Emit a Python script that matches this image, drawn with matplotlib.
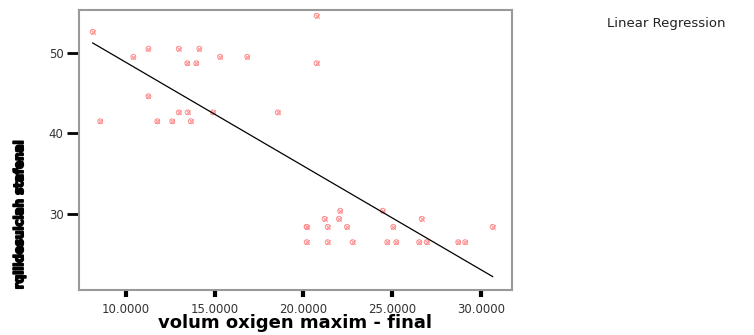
import numpy as np
import matplotlib.pyplot as plt
import matplotlib.patheffects as pe

# volum oxigen maxim - final
vo2 = [8.12, 10.41, 11.26, 12.97, 14.13, 13.45, 13.96, 15.30, 16.83, 11.26,
       12.97, 13.47, 14.90, 8.54, 11.76, 12.60, 13.65, 20.74, 20.74, 18.55,
       20.18, 20.18, 20.18, 21.19, 21.36, 21.36, 22.07, 22.00, 22.45, 22.77,
       24.46, 25.06, 24.72, 25.23, 26.66, 26.52, 26.94, 28.72, 29.11, 30.66]
scor = [52.6, 49.5, 50.5, 50.5, 50.5, 48.7, 48.7, 49.5, 49.5, 44.6,
        42.6, 42.6, 42.6, 41.5, 41.5, 41.5, 41.5, 54.6, 48.7, 42.6,
        28.4, 28.4, 26.5, 29.4, 28.4, 26.5, 30.4, 29.4, 28.4, 26.5,
        30.4, 28.4, 26.5, 26.5, 29.4, 26.5, 26.5, 26.5, 26.5, 28.4]

xticks = [10, 15, 20, 25, 30]
yticks = [30, 40, 50]

x = np.array(vo2)
y = np.array(scor)
b, a = np.polyfit(x, y, 1)
xs = np.array([x.min(), x.max()])

fig = plt.figure(figsize=(7.54, 3.35), dpi=100)
ax = fig.add_axes([0.1048, 0.1343, 0.5742, 0.8358])

pink = "#ff8c8c"
ax.scatter(x, y, s=12, marker="o", facecolors="none", edgecolors=pink, linewidths=0.7)
ax.scatter(x, y, s=10, marker="x", color=pink, linewidths=0.7)
ax.plot(xs, a + b * xs, color="black", lw=0.9)

ax.set_xlim(7.35, 31.75)
ax.set_ylim(20.56, 55.3)
ax.set_xticks(xticks)
ax.set_xticklabels([f"{t:.4f}" for t in xticks])
ax.set_yticks(yticks)

for s in ax.spines.values():
    s.set_color("#999999")
    s.set_linewidth(1.5)

ax.tick_params(axis="x", length=5, width=3, direction="out", pad=4,
               labelsize=8.5, colors="black")
ax.tick_params(axis="y", length=9, width=2, direction="out", pad=2,
               labelsize=8.5, colors="black")
for lab in ax.get_xticklabels() + ax.get_yticklabels():
    lab.set_fontfamily("DejaVu Sans")
    lab.set_color("#333333")

ax.set_xlabel("volum oxigen maxim - final", fontsize=13, fontweight="bold",
              va="center")
ax.xaxis.set_label_coords(0.5, -0.118)

# y title looks smudged in the source, thicken it with a stroke
fig.text(0.026, 0.36, "rqlildesulciah stafenal", rotation=90,
         fontsize=9.5, fontweight="bold", ha="center", va="center",
         fontstretch="condensed",
         family=["Liberation Sans Narrow", "DejaVu Sans"],
         path_effects=[pe.withStroke(linewidth=1.2, foreground="black")])

fig.text(0.805, 0.93, "Linear Regression", fontsize=9.5, color="#222222",
         ha="left", va="center", family="DejaVu Sans")

fig.savefig("out.png", dpi=100)
